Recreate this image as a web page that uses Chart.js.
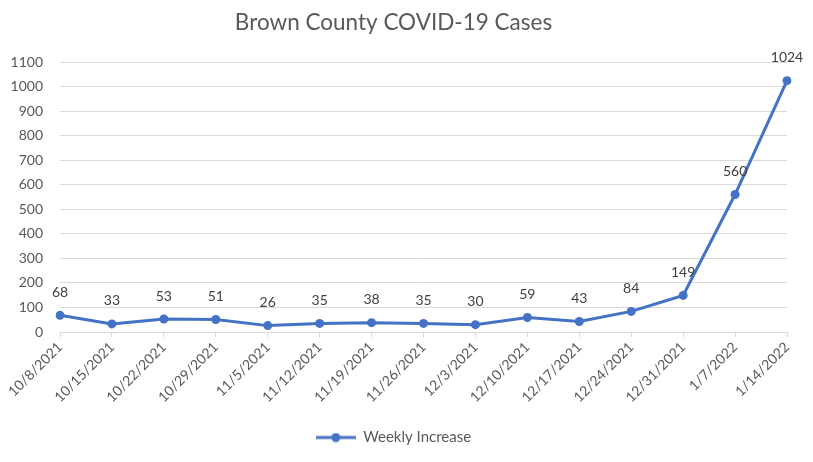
<!DOCTYPE html>
<html>
<head>
<meta charset="utf-8">
<script src="https://cdn.jsdelivr.net/npm/chart.js@4.4.0/dist/chart.umd.min.js"></script>
<style>
  html, body { margin: 0; padding: 0; background: #fff; }
  #wrap { width: 813px; height: 462px; }
</style>
</head>
<body>
<div id="wrap"><canvas id="casesChart"></canvas></div>
<script>
// week ending dates and new cases per week
const weeks = ['10/8/2021', '10/15/2021', '10/22/2021', '10/29/2021', '11/5/2021',
  '11/12/2021', '11/19/2021', '11/26/2021', '12/3/2021', '12/10/2021',
  '12/17/2021', '12/24/2021', '12/31/2021', '1/7/2022', '1/14/2022'];
const weeklyIncrease = [68, 33, 53, 51, 26, 35, 38, 35, 30, 59, 43, 84, 149, 560, 1024];
const yMin = 0;
const yMax = 1100;
const yStep = 100;

const blue = '#4472C4';
const gray = '#595959';
const font = 'Lato';

// legend sample: short line with a dot in the middle, like Excel
const legendMark = document.createElement('canvas');
legendMark.width = 40;
legendMark.height = 10;
(function () {
  const c = legendMark.getContext('2d');
  c.strokeStyle = blue;
  c.lineWidth = 3;
  c.beginPath();
  c.moveTo(0, 5);
  c.lineTo(40, 5);
  c.stroke();
  c.fillStyle = blue;
  c.beginPath();
  c.arc(20, 5, 4.5, 0, Math.PI * 2);
  c.fill();
})();

// value labels above each point
const pointLabels = {
  id: 'pointLabels',
  afterDatasetsDraw(chart) {
    const ctx = chart.ctx;
    const meta = chart.getDatasetMeta(0);
    ctx.save();
    ctx.font = '14px ' + font;
    ctx.fillStyle = '#404040';
    ctx.textAlign = 'center';
    ctx.textBaseline = 'middle';
    meta.data.forEach((pt, i) => {
      ctx.fillText(weeklyIncrease[i], pt.x, pt.y - 23);
    });
    ctx.restore();
  }
};

const ctx = document.getElementById('casesChart').getContext('2d');
new Chart(ctx, {
  type: 'line',
  data: {
    labels: weeks,
    datasets: [{
      label: 'Weekly Increase',
      data: weeklyIncrease,
      borderColor: blue,
      backgroundColor: blue,
      borderWidth: 3,
      pointRadius: 4.5,
      pointHoverRadius: 4.5,
      pointBackgroundColor: blue,
      pointBorderWidth: 0,
      tension: 0
    }]
  },
  options: {
    responsive: true,
    maintainAspectRatio: false,
    animation: false,
    layout: { padding: { top: 0, right: 26, bottom: 7, left: 0 } },
    scales: {
      x: {
        offset: false,
        grid: { drawOnChartArea: false, drawTicks: true, tickLength: 5, color: '#d9d9d9' },
        border: { color: '#d9d9d9' },
        ticks: {
          color: gray,
          font: { family: font, size: 14 },
          maxRotation: 45,
          minRotation: 45,
          autoSkip: false,
          padding: 2
        },
        afterFit: s => { s.height = 88; }
      },
      y: {
        min: yMin,
        max: yMax,
        grid: { color: '#d9d9d9', drawTicks: false },
        border: { display: false },
        ticks: {
          stepSize: yStep,
          color: gray,
          font: { family: font, size: 14 },
          padding: 17,
          callback: v => String(v)
        },
        afterFit: s => { s.width = 60; }
      }
    },
    plugins: {
      title: {
        display: true,
        text: 'Brown County COVID-19 Cases',
        color: gray,
        font: { family: font, size: 22.5, weight: 'normal' },
        padding: { top: 9, bottom: 26 }
      },
      legend: {
        position: 'bottom',
        labels: {
          color: gray,
          font: { family: font, size: 15 },
          usePointStyle: true,
          pointStyleWidth: 40,
          generateLabels: chart => [{
            text: chart.data.datasets[0].label,
            pointStyle: legendMark,
            fontColor: gray,
            datasetIndex: 0,
            lineWidth: 0
          }]
        }
      },
      tooltip: { enabled: false }
    }
  },
  plugins: [pointLabels]
});
</script>
</body>
</html>
